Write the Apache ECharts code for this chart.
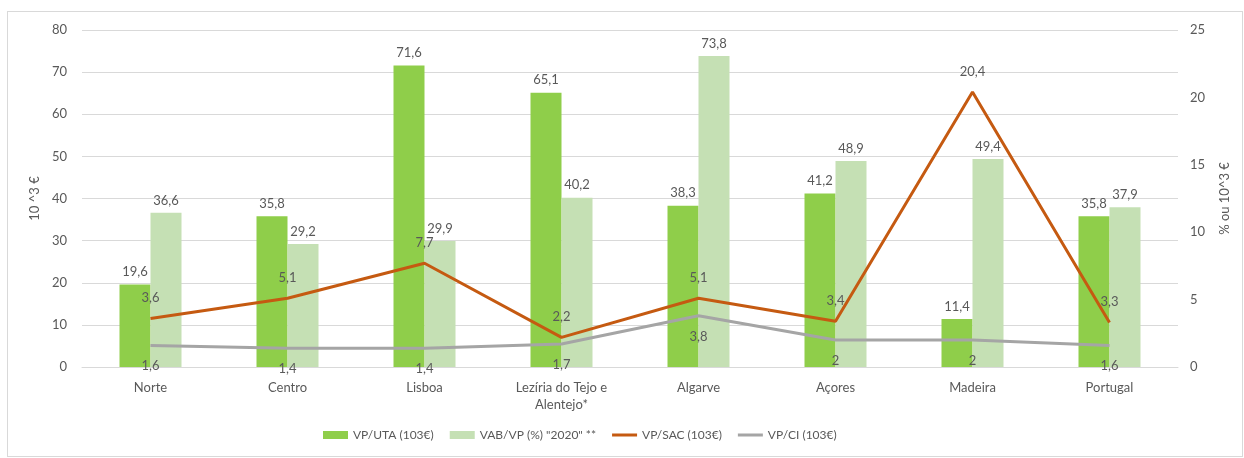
<!DOCTYPE html>
<html>
<head>
<meta charset="utf-8">
<script src="https://cdn.jsdelivr.net/npm/echarts@6/dist/echarts.min.js"></script>
<style>
  html, body { margin: 0; padding: 0; background: #fff; }
  #frame { position: absolute; left: 7px; top: 11px; width: 1236px; height: 446px; border: 1px solid #d9d9d9; box-sizing: border-box; }
  #chart { position: absolute; left: 0; top: 0; width: 1244px; height: 458px; }
</style>
</head>
<body>
<div id="frame"></div>
<div id="chart"></div>
<script>
// Regional indicators
const regions = ['Norte', 'Centro', 'Lisboa', 'Lezíria do Tejo e\nAlentejo*', 'Algarve', 'Açores', 'Madeira', 'Portugal'];
const vpUta = [19.6, 35.8, 71.6, 65.1, 38.3, 41.2, 11.4, 35.8];
const vabVp = [36.6, 29.2, 29.9, 40.2, 73.8, 48.9, 49.4, 37.9];
const vpSac = [3.6, 5.1, 7.7, 2.2, 5.1, 3.4, 20.4, 3.3];
const vpCi  = [1.6, 1.4, 1.4, 1.7, 3.8, 2, 2, 1.6];
const leftTicks = { min: 0, max: 80, interval: 10 };
const rightTicks = { min: 0, max: 25, interval: 5 };

const FONT = 'Lato, "Open Sans", sans-serif';
const TXT = '#595959';
const comma = v => String(v).replace('.', ',');
const labelFmt = p => comma(p.value);
const lineIcon = 'path://M0,0h25v3h-25z';

const chart = echarts.init(document.getElementById('chart'), null, { renderer: 'canvas' });
chart.setOption({
  animation: false,
  textStyle: { fontFamily: FONT, color: TXT },
  grid: { left: 82, right: 66, top: 30, bottom: 91, containLabel: false },
  legend: {
    bottom: 12,
    left: 318,
    itemWidth: 25,
    itemHeight: 8,
    itemGap: 16,
    textStyle: { fontFamily: FONT, fontSize: 12, color: TXT },
    data: [
      { name: 'VP/UTA (103€)', icon: 'rect' },
      { name: 'VAB/VP (%) "2020" **', icon: 'rect' },
      { name: 'VP/SAC (103€)', icon: lineIcon },
      { name: 'VP/CI (103€)', icon: lineIcon }
    ]
  },
  xAxis: {
    type: 'category',
    data: regions,
    axisLine: { show: true, lineStyle: { color: '#d9d9d9' } },
    axisTick: { show: false },
    axisLabel: { fontFamily: FONT, fontSize: 13, color: TXT, margin: 12, lineHeight: 17 }
  },
  yAxis: [
    {
      type: 'value', min: leftTicks.min, max: leftTicks.max, interval: leftTicks.interval,
      name: '10 ^3 €', nameLocation: 'middle', nameGap: 38, nameRotate: 90,
      nameTextStyle: { fontFamily: FONT, fontSize: 13, color: TXT },
      axisLabel: { fontFamily: FONT, fontSize: 13, color: TXT, margin: 15 },
      axisLine: { show: false }, axisTick: { show: false },
      splitLine: { lineStyle: { color: '#d9d9d9', width: 1 } }
    },
    {
      type: 'value', min: rightTicks.min, max: rightTicks.max, interval: rightTicks.interval,
      name: '% ou 10^3 €', nameLocation: 'middle', nameGap: 40, nameRotate: 90,
      nameTextStyle: { fontFamily: FONT, fontSize: 13, color: TXT },
      axisLabel: { fontFamily: FONT, fontSize: 13, color: TXT, margin: 12 },
      axisLine: { show: false }, axisTick: { show: false },
      splitLine: { show: false }
    }
  ],
  series: [
    {
      name: 'VP/UTA (103€)', type: 'bar', data: vpUta, yAxisIndex: 0,
      barWidth: 31, barGap: '0%',
      itemStyle: { color: '#8fce4a' },
      label: { show: true, position: 'top', distance: 6, formatter: labelFmt, fontFamily: FONT, fontSize: 13, color: TXT }
    },
    {
      name: 'VAB/VP (%) "2020" **', type: 'bar', data: vabVp, yAxisIndex: 0,
      barWidth: 31, barGap: '0%',
      itemStyle: { color: '#c5e0b4' },
      label: { show: true, position: 'top', distance: 6, formatter: labelFmt, fontFamily: FONT, fontSize: 13, color: TXT }
    },
    {
      name: 'VP/SAC (103€)', type: 'line', data: vpSac, yAxisIndex: 1,
      symbol: 'circle', symbolSize: 0.1, showSymbol: true, z: 5,
      lineStyle: { color: '#c55a11', width: 3 },
      itemStyle: { color: '#c55a11' },
      label: { show: true, position: 'top', distance: 14, formatter: labelFmt, fontFamily: FONT, fontSize: 13, color: TXT }
    },
    {
      name: 'VP/CI (103€)', type: 'line', data: vpCi, yAxisIndex: 1,
      symbol: 'circle', symbolSize: 0.1, showSymbol: true, z: 4,
      lineStyle: { color: '#a5a5a5', width: 3 },
      itemStyle: { color: '#a5a5a5' },
      label: { show: true, position: 'bottom', distance: 14, formatter: labelFmt, fontFamily: FONT, fontSize: 13, color: TXT }
    }
  ]
});
</script>
</body>
</html>
